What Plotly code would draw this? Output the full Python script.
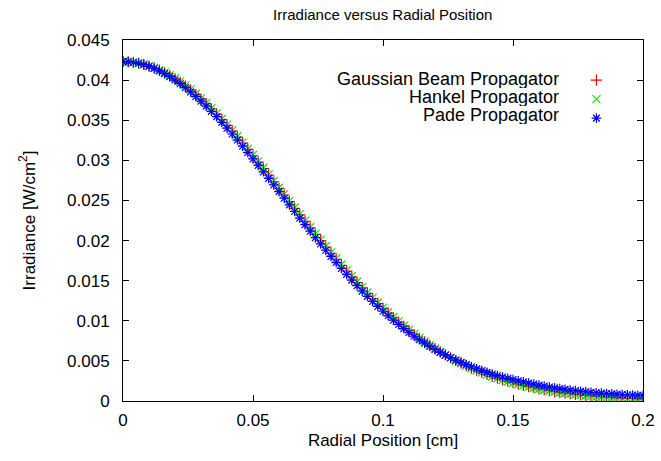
import plotly.graph_objects as go

radius = [round(0.002 * i, 3) for i in range(101)]

gaussian = [
    0.04230, 0.04228, 0.04221, 0.04210, 0.04195, 0.04175, 0.04152, 0.04124, 0.04092, 0.04056,
    0.04016, 0.03972, 0.03925, 0.03874, 0.03820, 0.03763, 0.03703, 0.03640, 0.03575, 0.03507,
    0.03436, 0.03364, 0.03290, 0.03214, 0.03136, 0.03057, 0.02977, 0.02897, 0.02815, 0.02733,
    0.02650, 0.02568, 0.02485, 0.02402, 0.02320, 0.02239, 0.02157, 0.02077, 0.01998, 0.01919,
    0.01842, 0.01766, 0.01692, 0.01619, 0.01547, 0.01477, 0.01409, 0.01343, 0.01278, 0.01215,
    0.01154, 0.01095, 0.01038, 0.00983, 0.00930, 0.00879, 0.00829, 0.00782, 0.00737, 0.00693,
    0.00652, 0.00612, 0.00574, 0.00538, 0.00504, 0.00471, 0.00440, 0.00411, 0.00383, 0.00357,
    0.00332, 0.00308, 0.00286, 0.00265, 0.00246, 0.00228, 0.00210, 0.00194, 0.00179, 0.00165,
    0.00152, 0.00140, 0.00129, 0.00118, 0.00108, 0.00099, 0.00091, 0.00083, 0.00076, 0.00069,
    0.00063, 0.00057, 0.00052, 0.00047, 0.00043, 0.00039, 0.00035, 0.00032, 0.00029, 0.00026,
    0.00023,
]

hankel = [
    0.04230, 0.04228, 0.04222, 0.04211, 0.04196, 0.04177, 0.04154, 0.04127, 0.04096, 0.04061,
    0.04025, 0.03982, 0.03935, 0.03884, 0.03830, 0.03773, 0.03713, 0.03650, 0.03585, 0.03517,
    0.03446, 0.03374, 0.03300, 0.03224, 0.03146, 0.03067, 0.02987, 0.02907, 0.02825, 0.02743,
    0.02660, 0.02578, 0.02495, 0.02412, 0.02330, 0.02249, 0.02167, 0.02087, 0.02008, 0.01929,
    0.01852, 0.01776, 0.01702, 0.01629, 0.01557, 0.01487, 0.01419, 0.01353, 0.01288, 0.01225,
    0.01163, 0.01104, 0.01047, 0.00992, 0.00938, 0.00887, 0.00836, 0.00788, 0.00742, 0.00697,
    0.00655, 0.00614, 0.00575, 0.00537, 0.00502, 0.00469, 0.00438, 0.00408, 0.00380, 0.00354,
    0.00329, 0.00305, 0.00283, 0.00262, 0.00243, 0.00224, 0.00207, 0.00191, 0.00176, 0.00162,
    0.00149, 0.00137, 0.00126, 0.00115, 0.00106, 0.00097, 0.00089, 0.00081, 0.00074, 0.00068,
    0.00062, 0.00056, 0.00051, 0.00046, 0.00042, 0.00038, 0.00034, 0.00031, 0.00028, 0.00026,
    0.00024,
]

pade = [
    0.04230, 0.04228, 0.04220, 0.04208, 0.04192, 0.04170, 0.04145, 0.04115, 0.04081, 0.04043,
    0.04001, 0.03955, 0.03906, 0.03853, 0.03797, 0.03738, 0.03676, 0.03611, 0.03544, 0.03474,
    0.03401, 0.03328, 0.03253, 0.03176, 0.03097, 0.03017, 0.02937, 0.02857, 0.02775, 0.02693,
    0.02610, 0.02528, 0.02445, 0.02362, 0.02280, 0.02199, 0.02117, 0.02037, 0.01958, 0.01879,
    0.01802, 0.01726, 0.01652, 0.01579, 0.01507, 0.01437, 0.01370, 0.01305, 0.01241, 0.01179,
    0.01119, 0.01062, 0.01007, 0.00954, 0.00903, 0.00854, 0.00807, 0.00763, 0.00721, 0.00680,
    0.00642, 0.00606, 0.00572, 0.00540, 0.00510, 0.00481, 0.00453, 0.00427, 0.00402, 0.00379,
    0.00357, 0.00336, 0.00317, 0.00299, 0.00283, 0.00268, 0.00252, 0.00238, 0.00224, 0.00211,
    0.00198, 0.00186, 0.00175, 0.00164, 0.00154, 0.00145, 0.00137, 0.00129, 0.00122, 0.00115,
    0.00109, 0.00103, 0.00098, 0.00093, 0.00089, 0.00085, 0.00081, 0.00078, 0.00075, 0.00072,
    0.00069,
]

series_names = ["Gaussian Beam Propagator", "Hankel Propagator", "Pade Propagator"]
series_values = [gaussian, hankel, pade]
series_colors = ["#ff0000", "#00ee00", "#0000ff"]
series_symbols = ["cross-thin", "x-thin", "asterisk"]

x_tickvals = [0, 0.05, 0.1, 0.15, 0.2]
x_ticktext = ["0", "0.05", "0.1", "0.15", "0.2"]
y_tickvals = [0, 0.005, 0.01, 0.015, 0.02, 0.025, 0.03, 0.035, 0.04, 0.045]
y_ticktext = ["0", "0.005", "0.01", "0.015", "0.02", "0.025", "0.03", "0.035", "0.04", "0.045"]

FONT = "Liberation Sans, Arial, sans-serif"
FS = 17

fig = go.Figure()
for name, vals, col, sym in zip(series_names, series_values, series_colors, series_symbols):
    fig.add_trace(go.Scatter(
        x=radius, y=vals, mode="markers", name=name,
        marker=dict(symbol=sym, size=8, color=col, line=dict(color=col, width=1.2)),
    ))

# legend labels (gnuplot style: text right-aligned, sample to the right)
legend_y = [0.892, 0.842, 0.792]
for name, ly in zip(series_names, legend_y):
    fig.add_annotation(
        x=0.84, y=ly, xref="paper", yref="paper", text=name, showarrow=False,
        xanchor="right", yanchor="middle", height=18, borderpad=0,
        font=dict(family=FONT, size=18, color="#000000"),
    )

fig.update_layout(
    width=661, height=461,
    margin=dict(l=123, r=18, t=40, b=60, autoexpand=False),
    paper_bgcolor="white", plot_bgcolor="white",
    font=dict(family=FONT, size=FS, color="#000000"),
    title=dict(text="Irradiance versus Radial Position", x=0.579, xanchor="center",
               y=0.968, yanchor="middle", font=dict(family=FONT, size=15)),
    showlegend=True,
    legend=dict(x=0.872, xanchor="left", y=0.929, yanchor="top",
                font=dict(size=1, color="rgba(0,0,0,0)"), bgcolor="rgba(0,0,0,0)",
                itemwidth=30, tracegroupgap=0),
    xaxis=dict(range=[0, 0.2], tickvals=x_tickvals, ticktext=x_ticktext,
               ticks="inside", ticklen=6, tickcolor="black", mirror="allticks",
               ticklabelstandoff=4,
               showline=True, linecolor="black", linewidth=1, showgrid=False, zeroline=False,
               title=dict(text="Radial Position [cm]", standoff=4, font=dict(size=FS))),
    yaxis=dict(range=[0, 0.045], tickvals=y_tickvals, ticktext=y_ticktext,
               ticks="inside", ticklen=6, tickcolor="black", mirror="allticks",
               ticklabelstandoff=9,
               showline=True, linecolor="black", linewidth=1, showgrid=False, zeroline=False,
               title=dict(text="Irradiance [W/cm<sup>2</sup>]", standoff=27, font=dict(size=FS))),
)

fig.write_html("out.html", config={"displayModeBar": False},
               post_script="document.body.style.margin='0';")
